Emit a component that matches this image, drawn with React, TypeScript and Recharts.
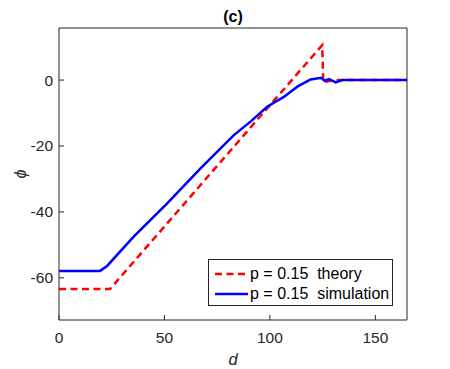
import { LineChart, Line, XAxis, YAxis, Legend, Label } from "recharts";

const FONT = "'Liberation Sans', Arial, Helvetica, sans-serif";
const AXIS = "#262626";

// theory curve (red dashed)
const theoryD = [0, 24.2, 124.8, 125.3, 128, 130, 165];
const theoryPhi = [-63.4, -63.4, 10.6, -0.8, -0.3, 0, 0];

// simulation curve (blue solid)
const simD = [0, 19.5, 22.8, 35.4, 51.3, 67.1, 82.9, 90.8, 98.7, 106.6, 113, 119.3, 124.3, 125.9, 128, 131.2, 134.3, 140, 165];
const simPhi = [-57.9, -57.9, -56.4, -47.5, -37.4, -26.8, -16.7, -12.6, -8.1, -5.1, -2.0, 0.2, 0.7, -0.2, 0.3, -0.7, 0, 0, 0];

const seriesNames = ["p = 0.15  theory", "p = 0.15  simulation"];
const xTicks = [0, 50, 100, 150];
const yTicks = [-60, -40, -20, 0];
const xDomain = [0, 165];
const yDomain = [-72.8, 15.8];

const theoryData = theoryD.map((d, i) => ({ d, phi: theoryPhi[i] }));
const simData = simD.map((d, i) => ({ d, phi: simPhi[i] }));

const tickStyle = { fill: AXIS, fontSize: 15.5, fontFamily: FONT };

const renderLegend = (props: any) => {
  const items = [...(props.payload || [])].sort(
    (a: any, b: any) => seriesNames.indexOf(a.value) - seriesNames.indexOf(b.value)
  );
  return (
    <div
      style={{
        border: "1px solid #262626",
        background: "#fff",
        width: 185,
        height: 47,
        boxSizing: "border-box",
        padding: "4px 0 0 6px",
        fontFamily: FONT,
        fontSize: 16,
        color: "#000",
      }}
    >
      {items.map((entry: any) => (
        <div key={entry.value} style={{ display: "flex", alignItems: "center", height: 20 }}>
          <svg width={33} height={6} style={{ display: "block" }}>
            <line
              x1={0}
              y1={3}
              x2={33}
              y2={3}
              stroke={entry.color}
              strokeWidth={2.5}
              strokeDasharray={entry.payload?.strokeDasharray}
            />
          </svg>
          <span style={{ whiteSpace: "pre", marginLeft: 2, lineHeight: "20px" }}>{entry.value}</span>
        </div>
      ))}
    </div>
  );
};

const PhiLabel = (props: any) => {
  const vb = props.viewBox || { x: 0, y: 0, width: 59, height: 292 };
  const x = vb.x + 20;
  const y = vb.y + vb.height / 2;
  return (
    <text
      x={x}
      y={y}
      transform={`rotate(-90 ${x} ${y})`}
      textAnchor="middle"
      dominantBaseline="central"
      fontStyle="italic"
      fontSize={16}
      fontFamily={FONT}
      fill={AXIS}
    >
      ϕ
    </text>
  );
};

export default function App() {
  return (
    <div style={{ position: "absolute", left: 0, top: 0, background: "#fff" }}>
      <LineChart width={450} height={369} margin={{ top: 27, right: 42, bottom: 0, left: 0 }}>
        <XAxis
          dataKey="d"
          type="number"
          domain={xDomain}
          ticks={xTicks}
          allowDataOverflow
          stroke={AXIS}
          tick={tickStyle}
          tickSize={-5}
          tickMargin={17}
          height={49}
        >
          <Label value="d" position="insideBottom" offset={4} fontStyle="italic" fontSize={16.5} fontFamily={FONT} fill={AXIS} />
        </XAxis>
        <XAxis
          xAxisId="top"
          orientation="top"
          type="number"
          domain={xDomain}
          ticks={xTicks}
          allowDataOverflow
          stroke={AXIS}
          tick={false}
          tickSize={-5}
          height={1}
        >
          <Label value="(c)" position="top" offset={5} fontWeight="bold" fontSize={16} fontFamily={FONT} fill="#000" />
        </XAxis>
        <YAxis
          type="number"
          domain={yDomain}
          ticks={yTicks}
          allowDataOverflow
          stroke={AXIS}
          tick={tickStyle}
          tickSize={-5}
          tickMargin={11}
          width={59}
        >
          <Label content={<PhiLabel />} />
        </YAxis>
        <YAxis
          yAxisId="right"
          orientation="right"
          type="number"
          domain={yDomain}
          ticks={yTicks}
          allowDataOverflow
          stroke={AXIS}
          tick={false}
          tickSize={-5}
          width={1}
        />
        <Legend
          layout="horizontal"
          verticalAlign="middle"
          align="center"
          content={renderLegend}
          wrapperStyle={{ position: "absolute", left: 208, top: 259, right: "auto", bottom: "auto", width: 185, height: 47 }}
        />
        <Line
          data={theoryData}
          dataKey="phi"
          name={seriesNames[0]}
          type="linear"
          stroke="#ff0000"
          strokeWidth={2.5}
          strokeDasharray="7 4.5"
          dot={false}
          activeDot={false}
          isAnimationActive={false}
        />
        <Line
          data={simData}
          dataKey="phi"
          name={seriesNames[1]}
          type="linear"
          stroke="#0000ff"
          strokeWidth={2.5}
          dot={false}
          activeDot={false}
          isAnimationActive={false}
        />
      </LineChart>
    </div>
  );
}
